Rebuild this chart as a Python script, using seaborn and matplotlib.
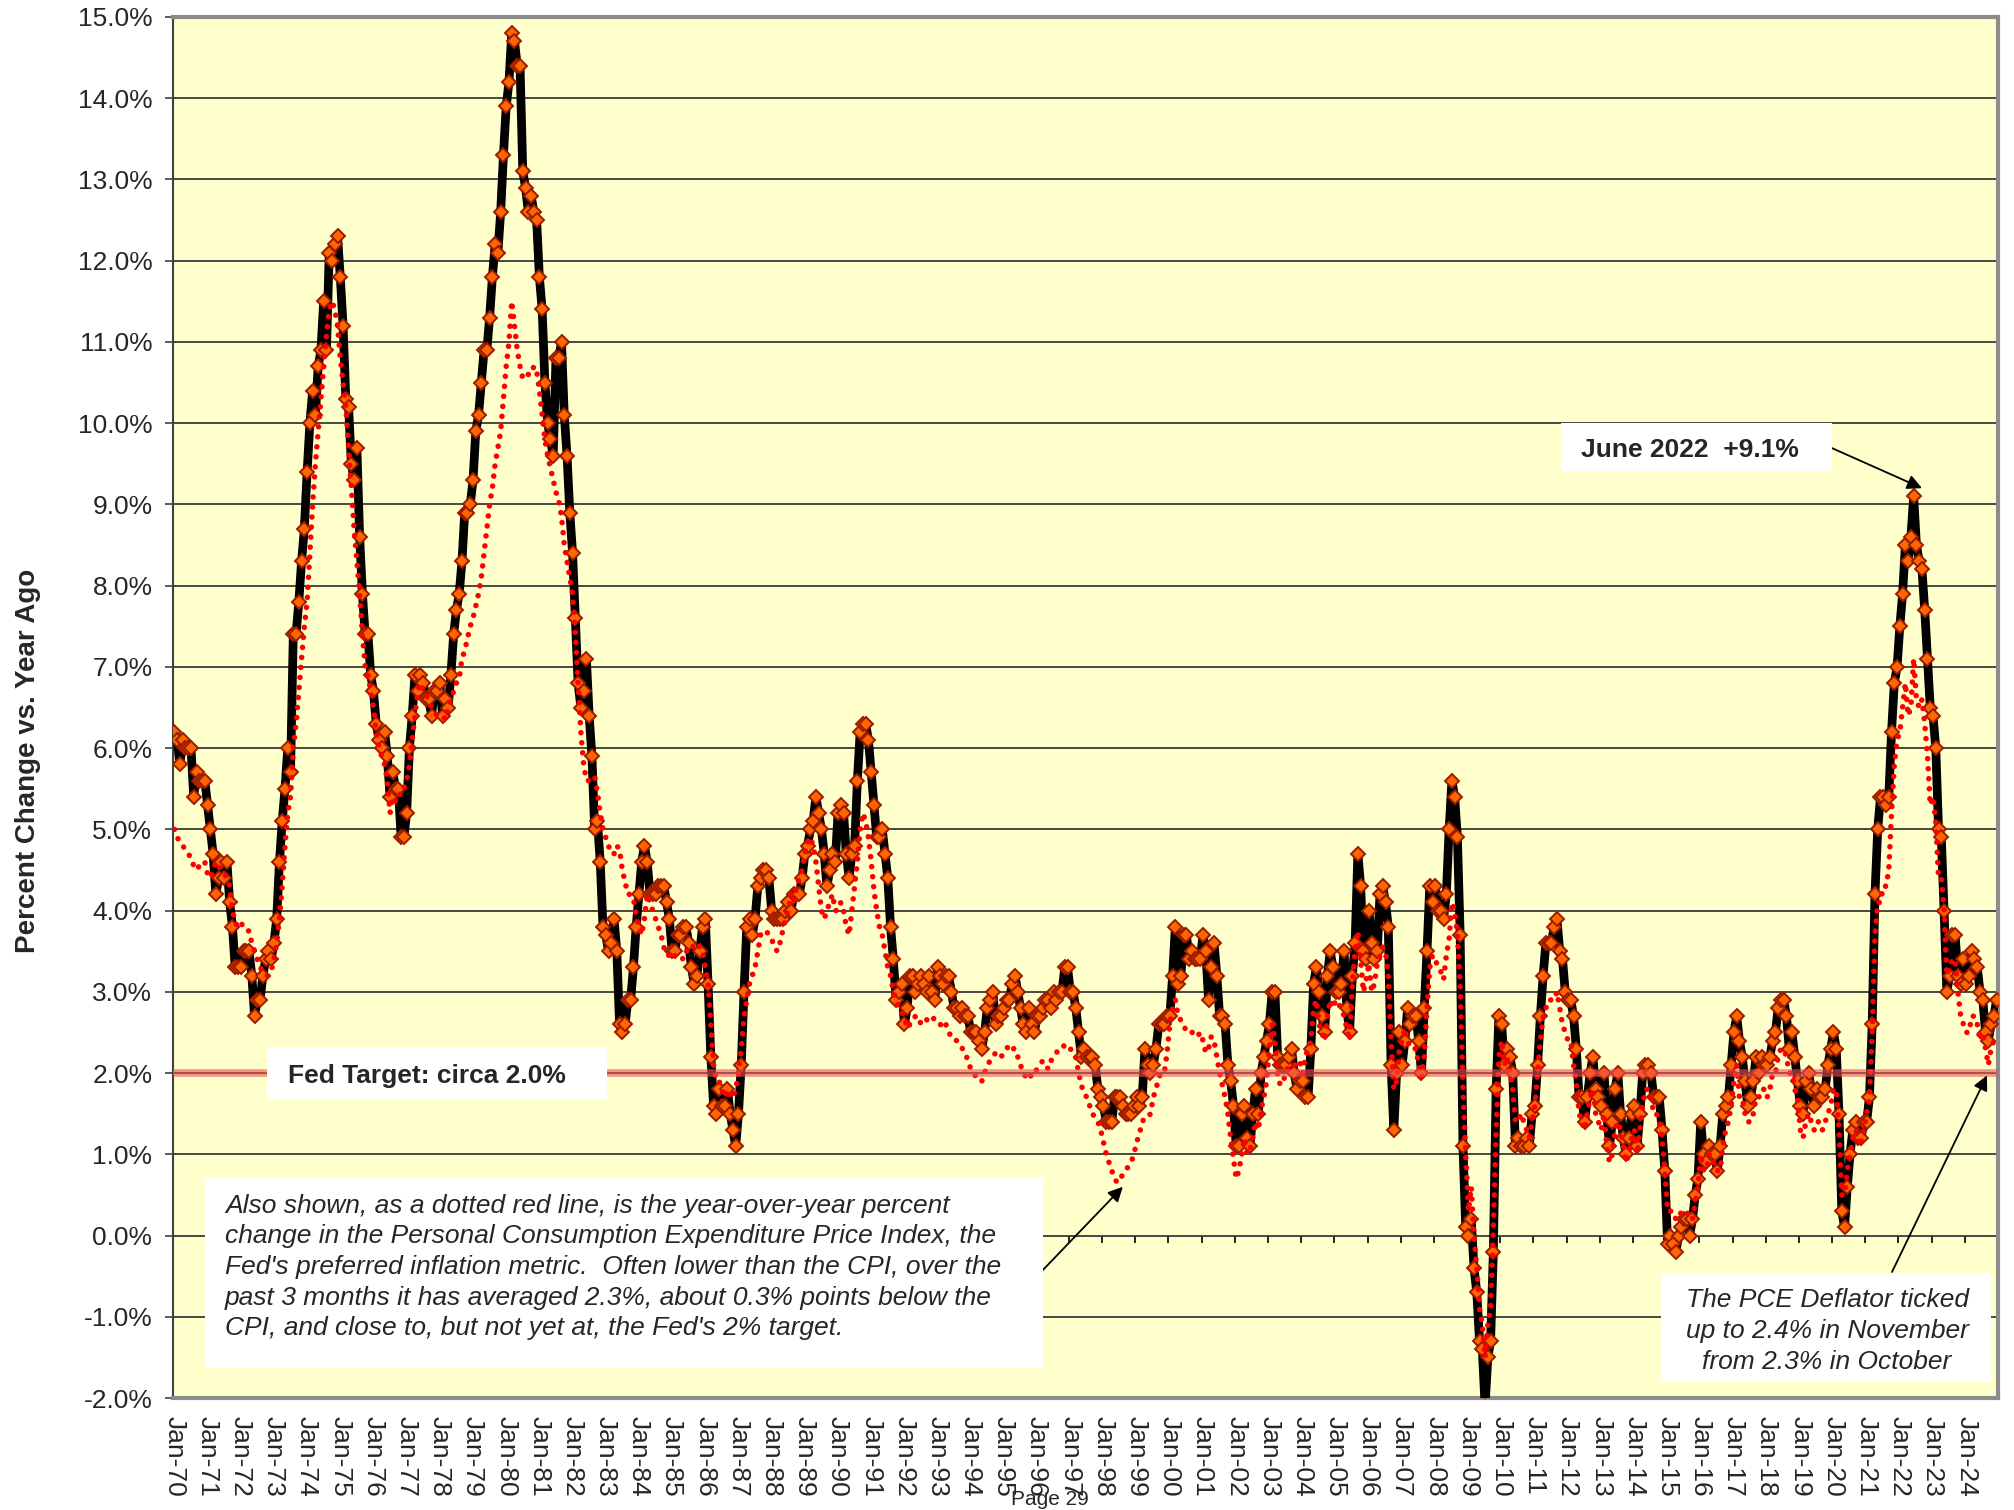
import numpy as np
import pandas as pd
import seaborn as sns
import matplotlib.pyplot as plt
from matplotlib.patches import Rectangle

# CPI, year-over-year % change, monthly Jan-70 .. Dec-24
cpi_yoy = [
    6.2, 6.1, 5.8, 6.1, 6.0, 6.0, 6.0, 5.4, 5.7, 5.6, 5.6, 5.6,  # 1970
    5.3, 5.0, 4.7, 4.2, 4.4, 4.6, 4.4, 4.6, 4.1, 3.8, 3.3, 3.3,  # 1971
    3.3, 3.5, 3.5, 3.5, 3.2, 2.7, 2.9, 2.9, 3.2, 3.4, 3.5, 3.4,  # 1972
    3.6, 3.9, 4.6, 5.1, 5.5, 6.0, 5.7, 7.4, 7.4, 7.8, 8.3, 8.7,  # 1973
    9.4, 10.0, 10.4, 10.1, 10.7, 10.9, 11.5, 10.9, 12.1, 12.0, 12.2, 12.3,  # 1974
    11.8, 11.2, 10.3, 10.2, 9.5, 9.3, 9.7, 8.6, 7.9, 7.4, 7.4, 6.9,  # 1975
    6.7, 6.3, 6.1, 6.0, 6.2, 5.9, 5.4, 5.7, 5.5, 5.5, 4.9, 4.9,  # 1976
    5.2, 6.0, 6.4, 6.9, 6.7, 6.9, 6.8, 6.6, 6.6, 6.4, 6.7, 6.7,  # 1977
    6.8, 6.4, 6.6, 6.5, 6.9, 7.4, 7.7, 7.9, 8.3, 8.9, 8.9, 9.0,  # 1978
    9.3, 9.9, 10.1, 10.5, 10.9, 10.9, 11.3, 11.8, 12.2, 12.1, 12.6, 13.3,  # 1979
    13.9, 14.2, 14.8, 14.7, 14.4, 14.4, 13.1, 12.9, 12.6, 12.8, 12.6, 12.5,  # 1980
    11.8, 11.4, 10.5, 10.0, 9.8, 9.6, 10.8, 10.8, 11.0, 10.1, 9.6, 8.9,  # 1981
    8.4, 7.6, 6.8, 6.5, 6.7, 7.1, 6.4, 5.9, 5.0, 5.1, 4.6, 3.8,  # 1982
    3.7, 3.5, 3.6, 3.9, 3.5, 2.6, 2.5, 2.6, 2.9, 2.9, 3.3, 3.8,  # 1983
    4.2, 4.6, 4.8, 4.6, 4.2, 4.2, 4.2, 4.3, 4.3, 4.3, 4.1, 3.9,  # 1984
    3.5, 3.5, 3.7, 3.7, 3.8, 3.8, 3.6, 3.3, 3.1, 3.2, 3.5, 3.8,  # 1985
    3.9, 3.1, 2.2, 1.6, 1.5, 1.8, 1.6, 1.6, 1.8, 1.5, 1.3, 1.1,  # 1986
    1.5, 2.1, 3.0, 3.8, 3.9, 3.7, 3.9, 4.3, 4.4, 4.5, 4.5, 4.4,  # 1987
    4.0, 3.9, 3.9, 3.9, 3.9, 4.0, 4.1, 4.0, 4.2, 4.2, 4.2, 4.4,  # 1988
    4.7, 4.8, 5.0, 5.1, 5.4, 5.2, 5.0, 4.7, 4.3, 4.5, 4.7, 4.6,  # 1989
    5.2, 5.3, 5.2, 4.7, 4.4, 4.7, 4.8, 5.6, 6.2, 6.3, 6.3, 6.1,  # 1990
    5.7, 5.3, 4.9, 4.9, 5.0, 4.7, 4.4, 3.8, 3.4, 2.9, 3.0, 3.1,  # 1991
    2.6, 2.8, 3.2, 3.2, 3.0, 3.1, 3.2, 3.1, 3.0, 3.2, 3.0, 2.9,  # 1992
    3.3, 3.2, 3.1, 3.2, 3.2, 3.0, 2.8, 2.8, 2.7, 2.8, 2.7, 2.7,  # 1993
    2.5, 2.5, 2.5, 2.4, 2.3, 2.5, 2.8, 2.9, 3.0, 2.6, 2.7, 2.7,  # 1994
    2.8, 2.9, 2.9, 3.1, 3.2, 3.0, 2.8, 2.6, 2.5, 2.8, 2.6, 2.5,  # 1995
    2.7, 2.7, 2.8, 2.9, 2.9, 2.8, 3.0, 2.9, 3.0, 3.0, 3.3, 3.3,  # 1996
    3.0, 3.0, 2.8, 2.5, 2.2, 2.3, 2.2, 2.2, 2.2, 2.1, 1.8, 1.7,  # 1997
    1.6, 1.4, 1.4, 1.4, 1.7, 1.7, 1.7, 1.6, 1.5, 1.5, 1.5, 1.6,  # 1998
    1.7, 1.6, 1.7, 2.3, 2.1, 2.0, 2.1, 2.3, 2.6, 2.6, 2.6, 2.7,  # 1999
    2.7, 3.2, 3.8, 3.1, 3.2, 3.7, 3.7, 3.4, 3.5, 3.4, 3.4, 3.4,  # 2000
    3.7, 3.5, 2.9, 3.3, 3.6, 3.2, 2.7, 2.7, 2.6, 2.1, 1.9, 1.6,  # 2001
    1.1, 1.1, 1.5, 1.6, 1.2, 1.1, 1.5, 1.8, 1.5, 2.0, 2.2, 2.4,  # 2002
    2.6, 3.0, 3.0, 2.2, 2.1, 2.1, 2.1, 2.2, 2.3, 2.0, 1.8, 1.9,  # 2003
    1.9, 1.7, 1.7, 2.3, 3.1, 3.3, 3.0, 2.7, 2.5, 3.2, 3.5, 3.3,  # 2004
    3.0, 3.0, 3.1, 3.5, 2.8, 2.5, 3.2, 3.6, 4.7, 4.3, 3.5, 3.4,  # 2005
    4.0, 3.6, 3.4, 3.5, 4.2, 4.3, 4.1, 3.8, 2.1, 1.3, 2.0, 2.5,  # 2006
    2.1, 2.4, 2.8, 2.6, 2.7, 2.7, 2.4, 2.0, 2.8, 3.5, 4.3, 4.1,  # 2007
    4.3, 4.0, 4.0, 3.9, 4.2, 5.0, 5.6, 5.4, 4.9, 3.7, 1.1, 0.1,  # 2008
    0.0, 0.2, -0.4, -0.7, -1.3, -1.4, -2.1, -1.5, -1.3, -0.2, 1.8, 2.7,  # 2009
    2.6, 2.1, 2.3, 2.2, 2.0, 1.1, 1.2, 1.1, 1.1, 1.2, 1.1, 1.5,  # 2010
    1.6, 2.1, 2.7, 3.2, 3.6, 3.6, 3.6, 3.8, 3.9, 3.5, 3.4, 3.0,  # 2011
    2.9, 2.9, 2.7, 2.3, 1.7, 1.7, 1.4, 1.7, 2.0, 2.2, 1.8, 1.7,  # 2012
    1.6, 2.0, 1.5, 1.1, 1.4, 1.8, 2.0, 1.5, 1.2, 1.0, 1.2, 1.5,  # 2013
    1.6, 1.1, 1.5, 2.0, 2.1, 2.1, 2.0, 1.7, 1.7, 1.7, 1.3, 0.8,  # 2014
    -0.1, 0.0, -0.1, -0.2, 0.0, 0.1, 0.2, 0.2, 0.0, 0.2, 0.5, 0.7,  # 2015
    1.4, 1.0, 0.9, 1.1, 1.0, 1.0, 0.8, 1.1, 1.5, 1.6, 1.7, 2.1,  # 2016
    2.5, 2.7, 2.4, 2.2, 1.9, 1.6, 1.7, 1.9, 2.2, 2.0, 2.2, 2.1,  # 2017
    2.1, 2.2, 2.4, 2.5, 2.8, 2.9, 2.9, 2.7, 2.3, 2.5, 2.2, 1.9,  # 2018
    1.6, 1.5, 1.9, 2.0, 1.8, 1.6, 1.8, 1.7, 1.7, 1.8, 2.1, 2.3,  # 2019
    2.5, 2.3, 1.5, 0.3, 0.1, 0.6, 1.0, 1.3, 1.4, 1.2, 1.2, 1.4,  # 2020
    1.4, 1.7, 2.6, 4.2, 5.0, 5.4, 5.4, 5.3, 5.4, 6.2, 6.8, 7.0,  # 2021
    7.5, 7.9, 8.5, 8.3, 8.6, 9.1, 8.5, 8.3, 8.2, 7.7, 7.1, 6.5,  # 2022
    6.4, 6.0, 5.0, 4.9, 4.0, 3.0, 3.2, 3.7, 3.7, 3.2, 3.1, 3.4,  # 2023
    3.1, 3.2, 3.5, 3.4, 3.3, 3.0, 2.9, 2.5, 2.4, 2.6, 2.7, 2.9,  # 2024
]

# PCE price index, year-over-year % change, monthly Jan-70 .. Nov-24
pce_yoy = [
    5.0, 4.9, 4.85, 4.8, 4.75, 4.7, 4.65, 4.55, 4.5, 4.55, 4.6, 4.6,  # 1970
    4.45, 4.4, 4.5, 4.6, 4.55, 4.5, 4.45, 4.4, 4.3, 4.0, 3.85, 3.8,  # 1971
    3.85, 3.8, 3.75, 3.75, 3.6, 3.5, 3.4, 3.3, 3.25, 3.2, 3.2, 3.25,  # 1972
    3.4, 3.6, 3.9, 4.3, 4.8, 5.2, 5.4, 6.0, 6.3, 6.7, 7.1, 7.5,  # 1973
    7.8, 8.4, 9.0, 9.5, 9.9, 10.3, 10.7, 11.1, 11.4, 11.5, 11.4, 11.2,  # 1974
    10.8, 10.5, 10.2, 9.7, 9.2, 8.7, 8.3, 7.9, 7.4, 7.0, 6.9, 6.7,  # 1975
    6.5, 6.2, 6.0, 5.9, 5.8, 5.6, 5.2, 5.4, 5.35, 5.35, 5.5, 5.5,  # 1976
    5.6, 5.8, 6.1, 6.4, 6.7, 6.8, 6.7, 6.65, 6.6, 6.5, 6.45, 6.4,  # 1977
    6.4, 6.4, 6.35, 6.5, 6.6, 6.7, 6.8, 6.85, 7.1, 7.2, 7.35, 7.5,  # 1978
    7.6, 7.75, 7.9, 8.1, 8.4, 8.7, 9.0, 9.2, 9.5, 9.7, 9.9, 10.3,  # 1979
    10.7, 11.0, 11.5, 11.2, 10.9, 10.7, 10.55, 10.55, 10.6, 10.6, 10.7, 10.65,  # 1980
    10.4, 10.1, 9.8, 9.6, 9.45, 9.3, 9.15, 9.05, 8.85, 8.5, 8.3, 8.1,  # 1981
    7.9, 7.4, 6.8, 6.2, 5.8, 5.6, 5.6, 5.6, 5.65, 5.45, 5.2, 5.0,  # 1982
    4.9, 4.8, 4.7, 4.7, 4.8, 4.75, 4.5, 4.35, 4.2, 4.2, 4.15, 3.95,  # 1983
    3.8, 3.7, 3.9, 4.2, 4.1, 4.0, 3.9, 3.8, 3.7, 3.55, 3.45, 3.45,  # 1984
    3.4, 3.45, 3.45, 3.45, 3.4, 3.5, 3.5, 3.5, 3.6, 3.6, 3.55, 3.5,  # 1985
    3.3, 3.1, 2.6, 2.1, 1.9, 1.9, 1.8, 1.7, 1.8, 1.7, 1.7, 1.8,  # 1986
    2.0, 2.3, 2.7, 2.9, 3.1, 3.2, 3.3, 3.5, 3.7, 3.75, 3.75, 3.7,  # 1987
    3.65, 3.55, 3.5, 3.6, 3.75, 3.9, 4.0, 4.2, 4.1, 4.3, 4.4, 4.5,  # 1988
    4.7, 4.85, 4.9, 4.8, 4.6, 4.3, 4.0, 3.9, 4.0, 4.1, 4.2, 4.0,  # 1989
    4.0, 4.1, 4.0, 3.8, 3.7, 4.0, 4.3, 4.6, 5.0, 5.2, 5.1, 4.9,  # 1990
    4.6, 4.25, 4.0, 3.8, 3.7, 3.5, 3.3, 3.2, 3.0, 2.9, 2.8, 2.75,  # 1991
    2.7, 2.55, 2.6, 2.65, 2.7, 2.7, 2.6, 2.6, 2.65, 2.7, 2.7, 2.65,  # 1992
    2.6, 2.6, 2.55, 2.6, 2.5, 2.45, 2.4, 2.4, 2.35, 2.3, 2.25, 2.15,  # 1993
    2.05, 2.0, 1.95, 1.9, 1.9, 2.0, 2.1, 2.15, 2.2, 2.25, 2.2, 2.2,  # 1994
    2.25, 2.3, 2.35, 2.3, 2.3, 2.2, 2.1, 2.0, 1.95, 2.0, 1.95, 2.0,  # 1995
    2.05, 2.1, 2.15, 2.1, 2.05, 2.15, 2.2, 2.25, 2.3, 2.3, 2.35, 2.3,  # 1996
    2.3, 2.25, 2.2, 2.0, 1.85, 1.75, 1.7, 1.6, 1.5, 1.45, 1.4, 1.3,  # 1997
    1.15, 1.0, 0.9, 0.8, 0.7, 0.65, 0.7, 0.75, 0.8, 0.85, 0.9, 1.0,  # 1998
    1.15, 1.25, 1.4, 1.45, 1.45, 1.5, 1.7, 1.8, 1.95, 2.0, 2.0, 2.25,  # 1999
    2.6, 2.8, 2.9, 2.7, 2.65, 2.6, 2.5, 2.5, 2.5, 2.5, 2.45, 2.5,  # 2000
    2.4, 2.25, 2.3, 2.45, 2.4, 2.2, 2.0, 1.85, 1.7, 1.5, 1.2, 0.95,  # 2001
    0.7, 0.8, 1.0, 1.2, 1.0, 1.05, 1.2, 1.4, 1.3, 1.55, 1.7, 1.9,  # 2002
    2.3, 2.6, 2.4, 1.95, 1.85, 1.9, 2.0, 2.1, 2.1, 2.1, 2.1, 2.15,  # 2003
    2.0, 2.2, 2.3, 2.4, 2.8, 2.9, 2.6, 2.5, 2.4, 2.7, 2.9, 2.8,  # 2004
    2.9, 2.85, 2.8, 2.7, 2.55, 2.4, 3.1, 3.5, 3.75, 3.4, 3.0, 3.15,  # 2005
    3.35, 3.0, 3.1, 3.35, 3.45, 3.55, 3.5, 3.2, 2.4, 1.8, 1.9, 2.3,  # 2006
    2.4, 2.55, 2.4, 2.3, 2.3, 2.3, 2.1, 1.95, 2.2, 2.8, 3.3, 3.45,  # 2007
    3.4, 3.3, 3.25, 3.15, 3.45, 3.65, 4.1, 4.0, 3.7, 3.1, 1.8, 1.0,  # 2008
    0.3, 0.6, 0.0, -0.4, -0.9, -1.1, -1.5, -1.1, -0.9, 0.1, 1.3, 2.2,  # 2009
    2.4, 2.1, 2.2, 2.0, 1.8, 1.4, 1.4, 1.5, 1.4, 1.3, 1.2, 1.4,  # 2010
    1.6, 2.0, 2.4, 2.7, 2.8, 2.9, 2.9, 2.9, 3.0, 2.8, 2.6, 2.5,  # 2011
    2.4, 2.4, 2.1, 1.9, 1.5, 1.4, 1.3, 1.5, 1.7, 1.8, 1.5, 1.4,  # 2012
    1.3, 1.5, 1.1, 0.9, 1.0, 1.3, 1.4, 1.3, 1.1, 0.9, 1.0, 1.2,  # 2013
    1.3, 1.0, 1.3, 1.6, 1.8, 1.8, 1.7, 1.5, 1.5, 1.4, 1.2, 0.8,  # 2014
    0.3, 0.3, 0.3, 0.2, 0.2, 0.3, 0.3, 0.3, 0.2, 0.2, 0.4, 0.6,  # 2015
    1.0, 0.8, 0.8, 1.0, 0.9, 0.9, 0.8, 0.8, 1.1, 1.3, 1.4, 1.6,  # 2016
    1.9, 2.1, 1.7, 1.7, 1.5, 1.4, 1.4, 1.5, 1.7, 1.7, 1.8, 1.8,  # 2017
    1.7, 1.8, 2.0, 2.0, 2.2, 2.3, 2.3, 2.2, 2.0, 2.0, 1.8, 1.7,  # 2018
    1.3, 1.2, 1.4, 1.5, 1.4, 1.3, 1.4, 1.4, 1.3, 1.4, 1.5, 1.6,  # 2019
    1.8, 1.8, 1.3, 0.5, 0.5, 0.8, 1.0, 1.2, 1.3, 1.2, 1.1, 1.3,  # 2020
    1.5, 1.7, 2.5, 3.7, 4.1, 4.1, 4.3, 4.3, 4.5, 5.2, 5.8, 6.1,  # 2021
    6.2, 6.5, 6.8, 6.4, 6.5, 7.1, 6.6, 6.5, 6.6, 6.3, 5.9, 5.3,  # 2022
    5.4, 5.1, 4.4, 4.4, 4.0, 3.2, 3.3, 3.4, 3.4, 3.0, 2.7, 2.6,  # 2023
    2.5, 2.5, 2.7, 2.7, 2.6, 2.4, 2.5, 2.3, 2.1, 2.3, 2.4,  # 2024
]

years = list(range(1970, 2025))
year_labels = [f"Jan-{y % 100:02d}" for y in years]
y_ticks = list(range(-2, 16))
fed_target = 2.0

W, H = 2015, 1510
sns.set_style("white")
plt.rcParams["font.family"] = ["Liberation Sans", "DejaVu Sans"]

fig = plt.figure(figsize=(W / 100, H / 100), dpi=100)
ax = fig.add_axes([173 / W, 1 - 1398 / H, (1998 - 173) / W, (1398 - 17) / H])
ax.set_facecolor("#ffffcc")

months = np.arange(len(cpi_yoy))
df = pd.DataFrame({"month": months, "cpi": cpi_yoy})
df_pce = pd.DataFrame({"month": months[:len(pce_yoy)], "pce": pce_yoy})

# CPI: thick black line with orange diamonds
sns.lineplot(data=df, x="month", y="cpi", ax=ax, color="black", lw=6.3,
             marker="D", markersize=6.7, markerfacecolor="#ff6600",
             markeredgecolor="#9a1b00", markeredgewidth=1.4,
             errorbar=None, zorder=3)

# PCE: dotted red line
sns.lineplot(data=df_pce, x="month", y="pce", ax=ax, color="red", lw=4.0,
             linestyle=(0, (0.01, 1.8)), dash_capstyle="round",
             errorbar=None, zorder=4)

# Fed target band
ax.axhline(fed_target, color="#f05050", lw=5.5, alpha=0.6, zorder=5)

ax.set_xlim(-0.5, len(cpi_yoy) - 0.5)
ax.set_ylim(y_ticks[0], y_ticks[-1])
ax.set_yticks(y_ticks, labels=[f"{t:.1f}%" for t in y_ticks])
ax.set_xticks(months[::12], labels=year_labels, rotation=-90)
ax.tick_params(axis="x", length=0, pad=13, labelsize=19)
ax.tick_params(axis="y", length=5.8, width=1.2, pad=9, labelsize=19,
               direction="out", color="#404040", left=True)
ax.yaxis.grid(True, color="#3a3a3a", lw=1.3)
ax.set_axisbelow(True)
ax.set_xlabel("")
ax.set_ylabel("")

for side in ["top", "right", "bottom"]:
    ax.spines[side].set_color("#8c8c8c")
    ax.spines[side].set_linewidth(3)
ax.spines["left"].set_color("#404040")
ax.spines["left"].set_linewidth(1.5)

# year tick marks sitting on the 0% line
sec = ax.secondary_xaxis((0 - y_ticks[0]) / (y_ticks[-1] - y_ticks[0]))
sec.set_xticks(months[::12] - 0.5)
sec.tick_params(axis="x", length=5, width=1.2, direction="out",
                labelbottom=False, labeltop=False, color="black")
for s in sec.spines.values():
    s.set_visible(False)

# y axis title
fig.text(28 / W, 1 - 761 / H, "Percent Change vs. Year Ago", rotation=90,
         ha="center", va="center", fontsize=20, fontweight="bold")


def box(x0, y0, x1, y1):
    fig.add_artist(Rectangle((x0 / W, 1 - y1 / H), (x1 - x0) / W, (y1 - y0) / H,
                             transform=fig.transFigure, facecolor="white",
                             edgecolor="none", zorder=5))


def label(x, y, s, **kw):
    fig.text(x / W, 1 - y / H, s, va="baseline", zorder=6, **kw)


arrow = dict(arrowstyle="-|>", color="black", lw=1.3, mutation_scale=22,
             shrinkA=0, shrinkB=0)

# Fed target box
box(267, 1047, 607, 1099)
label(288, 1083, "Fed Target: circa 2.0%", fontsize=19, fontweight="bold")

# June 2022 peak
i22 = 600 + int(np.argmax(cpi_yoy[600:]))
box(1561, 423, 1832, 471)
label(1581, 457, f"June 2022  +{cpi_yoy[i22]:.1f}%", fontsize=19, fontweight="bold")
ax.annotate("", xy=(i22 + 3, cpi_yoy[i22] + 0.1), xytext=(1825, H - 445),
            textcoords="figure pixels", arrowprops=arrow, zorder=7,
            annotation_clip=False)

# PCE note
note_lines = [
    "Also shown, as a dotted red line, is the year-over-year percent",
    "change in the Personal Consumption Expenditure Price Index, the",
    "Fed's preferred inflation metric.  Often lower than the CPI, over the",
    "past 3 months it has averaged 2.3%, about 0.3% points below the",
    "CPI, and close to, but not yet at, the Fed's 2% target.",
]
box(205, 1178, 1043, 1368)
for k, line in enumerate(note_lines):
    label(225, 1213 + k * 30.5, line, fontsize=19, style="italic")
i98 = 336 + int(np.argmin(pce_yoy[336:348]))
ax.annotate("", xy=(i98 + 2, pce_yoy[i98] - 0.05), xytext=(1041, H - 1272),
            textcoords="figure pixels", arrowprops=arrow, zorder=7,
            annotation_clip=False)

# PCE deflator latest
latest_lines = ["The PCE Deflator ticked", "up to 2.4% in November",
                "from 2.3% in October"]
box(1661, 1273, 1991, 1382)
for k, line in enumerate(latest_lines):
    label(1827, 1307 + k * 31, line, fontsize=19, style="italic", ha="center")
ax.annotate("", xy=(len(pce_yoy) - 3.5, fed_target - 0.03), xytext=(1892, H - 1272),
            textcoords="figure pixels", arrowprops=arrow, zorder=7,
            annotation_clip=False)

label(1011, 1505, "Page 29", fontsize=15)

fig.savefig("out.png", dpi=100)
